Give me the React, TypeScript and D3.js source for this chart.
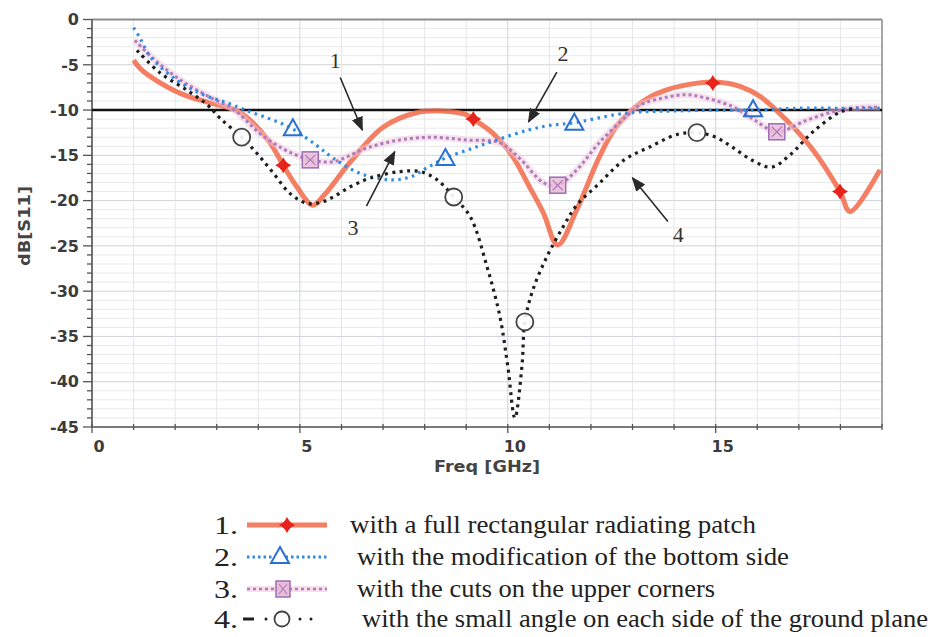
import React from 'react';
import * as d3 from 'd3';

type P = [number, number];

const W = 931;
const H = 637;

const yTicks = [0, -5, -10, -15, -20, -25, -30, -35, -40, -45];
const xTicks = [0, 5, 10, 15];
const refLevel = -10;

// Series 1: full rectangular radiating patch
const s1: P[] = [
  [1.0, -4.5], [1.2, -5.6], [1.64, -7.0], [2.2, -8.3], [2.84, -9.2], [3.5, -10.1], [3.87, -11.4],
  [4.28, -13.6], [4.6, -16.1], [4.93, -18.5], [5.31, -20.5], [5.6, -19.3], [6.2, -15.8], [7.0, -11.9],
  [7.8, -10.3], [8.4, -10.1], [9.0, -10.5], [9.17, -11.0], [9.65, -12.6], [10.1, -15.0], [10.5, -18.3],
  [10.85, -21.3], [11.2, -24.9], [11.66, -21.0], [12.2, -15.2], [12.6, -11.9], [13.2, -9.2], [13.8, -7.8],
  [14.6, -7.0], [15.0, -6.9], [15.6, -7.4], [16.07, -8.5], [16.7, -11.1], [17.34, -14.4], [17.99, -19.0],
  [18.23, -21.2], [18.95, -16.6],
];
const s1Markers: P[] = [[4.6, -16.1], [9.17, -11.0], [14.93, -7.0], [17.99, -19.0]];

// Series 2: modification of the bottom side
const s2: P[] = [
  [1.0, -0.9], [1.15, -2.0], [1.4, -4.1], [2.04, -6.7], [2.67, -8.3], [3.25, -9.2], [3.8, -10.2],
  [4.35, -11.1], [4.83, -12.1], [5.4, -13.9], [5.8, -15.3], [6.45, -17.0], [7.17, -17.7], [7.65, -17.4],
  [8.05, -16.4], [8.5, -15.3], [9.17, -14.2], [9.8, -13.2], [10.5, -12.2], [11.0, -11.7], [11.6, -11.4],
  [12.6, -10.5], [13.2, -10.2], [14.0, -10.1], [15.0, -10.0], [15.9, -10.0], [17.0, -9.8], [18.0, -9.8],
  [18.95, -9.8],
];
const s2Markers: P[] = [[4.83, -12.0], [8.5, -15.3], [11.6, -11.4], [15.9, -9.9]];

// Series 3: cuts on the upper corners
const s3: P[] = [
  [1.03, -2.3], [1.47, -4.3], [2.1, -6.6], [2.8, -8.5], [3.4, -9.9], [4.04, -12.6], [4.6, -14.3],
  [4.93, -15.0], [5.25, -15.5], [5.8, -15.7], [6.6, -14.2], [7.4, -13.3], [8.2, -13.0], [9.0, -13.3],
  [9.8, -13.6], [10.3, -15.4], [10.85, -18.0], [11.2, -18.3], [11.66, -16.6], [12.2, -13.6], [12.85, -10.7],
  [13.2, -9.4], [13.8, -8.6], [14.3, -8.3], [14.7, -8.6], [15.4, -9.6], [15.9, -11.0], [16.47, -12.4],
  [17.2, -11.1], [17.9, -10.1], [18.5, -9.7], [18.95, -9.7],
];
const s3Markers: P[] = [[5.25, -15.5], [11.2, -18.3], [16.47, -12.4]];

// Series 4: small angle on each side of the ground plane
const s4: P[] = [
  [1.08, -3.4], [1.64, -5.9], [2.28, -7.8], [2.77, -9.4], [3.08, -10.9], [3.6, -13.0], [3.97, -14.8],
  [4.35, -16.9], [4.76, -19.2], [5.17, -20.3], [5.5, -20.2], [5.8, -19.6], [6.2, -18.5], [6.7, -17.5],
  [7.4, -16.8], [7.9, -16.8], [8.3, -17.7], [8.7, -19.6], [9.1, -21.8], [9.5, -27.3], [9.81, -32.8],
  [10.0, -38.3], [10.17, -44.0], [10.34, -38.3], [10.41, -33.4], [10.6, -29.9], [10.94, -26.2],
  [11.33, -22.9], [11.66, -20.5], [12.2, -18.1], [12.8, -15.5], [13.4, -14.1], [14.07, -12.7],
  [14.55, -12.5], [15.0, -13.0], [15.4, -14.1], [15.9, -15.6], [16.35, -16.3], [16.8, -14.9],
  [17.34, -12.4], [18.0, -10.2], [18.3, -9.9],
];
const s4Markers: P[] = [[3.6, -13.0], [8.7, -19.6], [10.41, -33.4], [14.55, -12.5]];

const legendLabels = [
  'with a full rectangular radiating patch',
  'with the modification of the bottom side',
  'with the cuts on the upper corners',
  'with the small angle on each side of the ground plane',
];
const legendNums = ['1.', '2.', '3.', '4.'];

// annotation numbers: label, text pos (f, dB), arrow from, arrow to
const annotations: { label: string; t: P; a: P; b: P }[] = [
  { label: '1', t: [5.85, -4.5], a: [5.97, -6.4], b: [6.5, -12.2] },
  { label: '2', t: [11.33, -3.7], a: [11.18, -5.8], b: [10.5, -11.3] },
  { label: '3', t: [6.28, -22.9], a: [6.6, -20.6], b: [7.28, -14.6] },
  { label: '4', t: [14.1, -23.7], a: [13.85, -22.3], b: [13.0, -17.5] },
];

const RED = '#f26848';
const RED_M = '#e8231b';
const BLUE = '#2d8be3';
const BLUE_M = '#2a6fd3';
const PINK = '#ad7cbb';
const BLACK = '#1e1e1e';

const tri = 'M0,-9L9,7L-9,7Z';
const star = 'M0,-8L3,-3L8,0L3,3L0,8L-3,3L-8,0L-3,-3Z';

export default function App() {
  const x = d3.scaleLinear().domain([0, 19]).range([92, 882]);
  const y = d3.scaleLinear().domain([-45, 0]).range([427, 19.5]);
  const line = d3
    .line<P>()
    .x((d) => x(d[0]))
    .y((d) => y(d[1]))
    .curve(d3.curveCatmullRom.alpha(0.5));

  const minorY = d3.range(-45, 1, 1);
  const minorX = d3.range(0, 20, 1);

  const legRows = [525, 557, 589, 619];
  const legTextX = [350, 357, 357, 362];
  const legTextLen = [406, 432, 358, 566];

  const redMark = (cx: number, cy: number, k: string) => (
    <g key={k} transform={`translate(${cx},${cy})`}>
      <path d={star} fill={RED_M} />
      <circle r={4.5} fill={RED_M} />
    </g>
  );

  return (
    <svg
      width={W}
      height={H}
      style={{ position: 'absolute', left: 0, top: 0, background: '#fff' }}
      xmlns="http://www.w3.org/2000/svg"
    >
      <defs>
        <marker id="ah" viewBox="0 0 10 10" refX="9" refY="5" markerWidth="9" markerHeight="9" orient="auto">
          <path d="M0,1L10,5L0,9Z" fill="#2a2a2a" />
        </marker>
      </defs>
      <rect x={0} y={0} width={W} height={H} fill="#fff" />

      {/* grid */}
      <g>
        {minorY.map((v) => (
          <line key={'gy' + v} x1={x(0)} x2={x(19)} y1={y(v)} y2={y(v)}
            stroke={v % 5 === 0 ? '#cfd3d8' : '#e7e9ec'} strokeWidth={1} />
        ))}
        {minorX.map((v) => (
          <line key={'gx' + v} x1={x(v)} x2={x(v)} y1={y(0)} y2={y(-45)}
            stroke={v % 5 === 0 ? '#cfd3d8' : '#e4e6ea'} strokeWidth={1} />
        ))}
      </g>

      {/* frame */}
      <line x1={x(0)} x2={x(19)} y1={y(0)} y2={y(0)} stroke="#8d8d8d" strokeWidth={2} />
      <line x1={x(19)} x2={x(19)} y1={y(0)} y2={y(-45)} stroke="#8d8d8d" strokeWidth={1.5} />
      <line x1={x(0)} x2={x(0)} y1={y(0)} y2={y(-45)} stroke="#555" strokeWidth={1.6} />
      <line x1={x(0)} x2={x(19)} y1={y(-45)} y2={y(-45)} stroke="#555" strokeWidth={1.6} />

      {/* y ticks */}
      {minorY.map((v) => (
        <line key={'ty' + v} x1={x(0) - (v % 5 === 0 ? 9 : 5)} x2={x(0)} y1={y(v)} y2={y(v)}
          stroke="#555" strokeWidth={1.3} />
      ))}
      {yTicks.map((v) => (
        <text key={'ly' + v} x={79} y={y(v)} dy="0.36em" textAnchor="end"
          fontFamily="DejaVu Sans" fontWeight="bold" fontSize={16} fill="#3c3c3c">
          {v === 0 ? '0' : '-' + Math.abs(v)}
        </text>
      ))}
      {/* x ticks */}
      {minorX.map((v) => (
        <line key={'tx' + v} x1={x(v)} x2={x(v)} y1={y(-45) - 3} y2={y(-45) + (v % 5 === 0 ? 6 : 3)}
          stroke="#555" strokeWidth={1.3} />
      ))}
      {xTicks.map((v) => (
        <text key={'lx' + v} x={x(v) + 7} y={452} textAnchor="middle"
          fontFamily="DejaVu Sans" fontWeight="bold" fontSize={16} fill="#3c3c3c">
          {String(v)}
        </text>
      ))}

      <text x={487} y={472} textAnchor="middle" fontFamily="DejaVu Sans" fontWeight="bold"
        fontSize={15} fill="#444" textLength={106} lengthAdjust="spacingAndGlyphs">Freq [GHz]</text>
      <text transform="translate(30,226) rotate(-90)" textAnchor="middle" fontFamily="DejaVu Sans"
        fontWeight="bold" fontSize={15} fill="#444" textLength={80} lengthAdjust="spacingAndGlyphs">dB[S11]</text>

      {/* -10 dB reference */}
      <line x1={x(0)} x2={x(19)} y1={y(refLevel)} y2={y(refLevel)} stroke="#111" strokeWidth={2.4} />

      {/* series 1 */}
      <path d={line(s1) as string} fill="none" stroke={RED} strokeOpacity={0.85} strokeWidth={5} strokeLinejoin="round" />
      {s1Markers.map((d, i) => redMark(x(d[0]), y(d[1]), 'm1' + i))}

      {/* series 3 */}
      <path d={line(s3) as string} fill="none" stroke="#f2c9de" strokeOpacity={0.5} strokeWidth={7} />
      <path d={line(s3) as string} fill="none" stroke={PINK} strokeWidth={3} strokeDasharray="3 3" />
      {s3Markers.map((d, i) => {
        const cx = x(d[0]);
        const cy = y(d[1]);
        return (
          <g key={'m3' + i} transform={`translate(${cx},${cy})`}>
            <rect x={-8} y={-8} width={16} height={16} fill="#e9bcd8" fillOpacity={0.85} stroke="#9d6db3" strokeWidth={1.5} />
            <path d="M-5,-5L5,5M5,-5L-5,5" stroke="#b07cbc" strokeWidth={1.2} />
          </g>
        );
      })}

      {/* series 2 */}
      <path d={line(s2) as string} fill="none" stroke={BLUE} strokeWidth={3.2} strokeDasharray="2.5 4.5" />
      {s2Markers.map((d, i) => (
        <path key={'m2' + i} d={tri} transform={`translate(${x(d[0])},${y(d[1])})`} fill="none"
          stroke={BLUE_M} strokeWidth={2} strokeLinejoin="miter" />
      ))}

      {/* series 4 */}
      <path d={line(s4) as string} fill="none" stroke={BLACK} strokeWidth={3.2} strokeDasharray="3 4.5" />
      {s4Markers.map((d, i) => (
        <circle key={'m4' + i} cx={x(d[0])} cy={y(d[1])} r={8.5} fill="#fff" fillOpacity={0.9}
          stroke="#444" strokeWidth={1.8} />
      ))}

      {/* annotations */}
      {annotations.map((a) => (
        <g key={'an' + a.label}>
          <text x={x(a.t[0])} y={y(a.t[1])} dy="0.35em" textAnchor="middle" fontFamily="Liberation Serif"
            fontSize={22} fill="#333">{a.label}</text>
          <line x1={x(a.a[0])} y1={y(a.a[1])} x2={x(a.b[0])} y2={y(a.b[1])} stroke="#2a2a2a"
            strokeWidth={1.6} markerEnd="url(#ah)" />
        </g>
      ))}

      {/* legend */}
      {legendLabels.map((lab, i) => (
        <g key={'lg' + i}>
          <text x={214} y={legRows[i]} dy="0.35em" fontFamily="Liberation Serif" fontSize={26} fill="#222"
            textLength={24} lengthAdjust="spacingAndGlyphs">
            {legendNums[i]}
          </text>
          <text x={legTextX[i]} y={legRows[i]} dy="0.32em" fontFamily="Liberation Serif" fontSize={26}
            fill="#222" textLength={legTextLen[i]} lengthAdjust="spacingAndGlyphs">{lab}</text>
        </g>
      ))}
      {/* legend samples */}
      <line x1={247} x2={327} y1={legRows[0]} y2={legRows[0]} stroke={RED} strokeOpacity={0.85} strokeWidth={5} />
      {redMark(287, legRows[0], 'lm1')}

      <line x1={247} x2={327} y1={legRows[1]} y2={legRows[1]} stroke={BLUE} strokeWidth={3} strokeDasharray="2.5 3" />
      <path d={tri} transform={`translate(280,${legRows[1] - 1})`} fill="#fff" stroke={BLUE_M} strokeWidth={2} />

      <line x1={247} x2={327} y1={legRows[2]} y2={legRows[2]} stroke="#f2c9de" strokeWidth={6} strokeOpacity={0.6} />
      <line x1={247} x2={327} y1={legRows[2]} y2={legRows[2]} stroke={PINK} strokeWidth={2.5} strokeDasharray="3 3" />
      <g transform={`translate(283,${legRows[2]})`}>
        <rect x={-7} y={-8} width={14} height={16} fill="#e9bcd8" stroke="#9d6db3" strokeWidth={1.5} />
        <path d="M-4,-5L4,5M4,-5L-4,5" stroke="#b07cbc" strokeWidth={1.2} />
      </g>

      <line x1={243} x2={254} y1={legRows[3]} y2={legRows[3]} stroke={BLACK} strokeWidth={3} />
      <circle cx={266} cy={legRows[3]} r={1.5} fill={BLACK} />
      <circle cx={282} cy={legRows[3]} r={7.5} fill="#fff" stroke="#444" strokeWidth={1.8} />
      <circle cx={300} cy={legRows[3]} r={1.5} fill={BLACK} />
      <circle cx={311} cy={legRows[3]} r={1.5} fill={BLACK} />
    </svg>
  );
}
